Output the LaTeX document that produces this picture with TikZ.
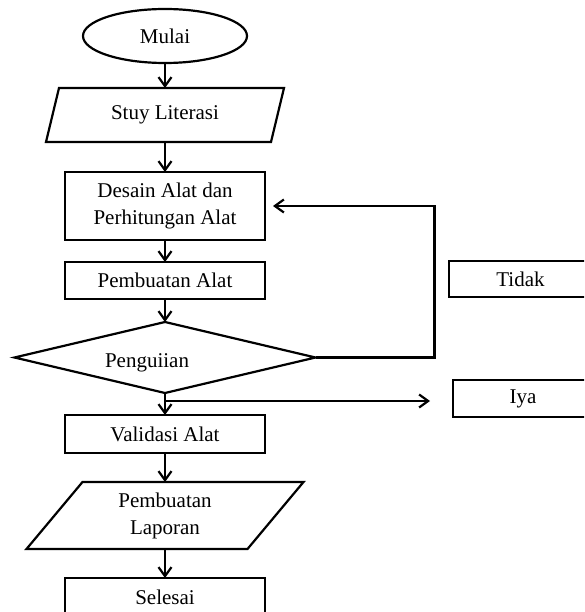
\documentclass[tikz,border=0pt]{standalone}
\usepackage{fontspec}
\setmainfont{Liberation Serif}
\usetikzlibrary{arrows.meta,positioning,shapes.geometric}

\begin{document}
\begin{tikzpicture}[
    x=1pt, y=-1pt,
    every node/.style={font=\fontsize{21}{27}\selectfont, outer sep=0pt},
    terminal/.style={draw, ellipse, line width=2.2pt, minimum width=164pt, minimum height=54pt, inner sep=0pt},
    block/.style={draw, line width=2.2pt, align=center, minimum width=200pt, inner sep=0pt},
    io/.style={align=center, inner sep=0pt},
    decision/.style={draw, diamond, line width=2.2pt, minimum width=301pt, minimum height=71pt, inner sep=0pt},
    note/.style={draw, line width=2.2pt, minimum height=36pt, inner sep=0pt},
    outline/.style={line width=2.2pt, line join=miter},
    arrow/.style={-{Straight Barb[length=9pt,width=13pt]}, line width=2.2pt}
]
\useasboundingbox (0,0) rectangle (584,612);
\clip (0,0) rectangle (584,612);

\node[terminal] (mulai) at (165,36) {Mulai};
\node[io, minimum width=238pt, minimum height=54pt, below=25pt of mulai] (stuy) {Stuy Literasi};
\node[block, minimum height=68pt, below=30pt of stuy] (desain) {Desain Alat dan\\Perhitungan Alat};
\node[block, minimum height=37pt, below=22pt of desain] (buat) {Pembuatan Alat};
\node[decision, below=23pt of buat, label={[xshift=-18pt,yshift=-5pt]center:Penguiian}] (uji) {};
\node[block, minimum height=38pt, below=22pt of uji] (validasi) {Validasi Alat};
\node[io, minimum width=277pt, minimum height=67pt, below=29pt of validasi] (laporan) {Pembuatan\\Laporan};
\node[block, minimum height=38pt, below=29pt of laporan] (selesai) {Selesai};

\node[note, minimum width=143pt] (tidak) at (520.5,279) {Tidak};
\node[note, minimum width=140pt, minimum height=37pt] (iya) at (523,398.5) {Iya};

% parallelograms
\draw[outline] ([xshift=13pt]stuy.north west) -- (stuy.north east) -- ([xshift=-13pt]stuy.south east) -- (stuy.south west) -- cycle;
\draw[outline] ([xshift=56pt]laporan.north west) -- (laporan.north east) -- ([xshift=-56pt]laporan.south east) -- (laporan.south west) -- cycle;

\draw[arrow] (mulai) -- (stuy);
\draw[arrow] (stuy) -- (desain);
\draw[arrow] (desain) -- (buat);
\draw[arrow] (buat) -- (uji);
\draw[arrow] (uji) -- (validasi);
\draw[arrow] (validasi) -- (laporan);
\draw[arrow] (laporan) -- (selesai);

% tidak: back to desain
\draw[arrow] (uji.east) -- ++(119,0) |- ([xshift=8pt]desain.east);

% iya
\coordinate (iyasplit) at ([yshift=-8pt]uji.south);
\coordinate (iyaend) at ([xshift=-23pt]iya.west);
\draw[arrow] (iyasplit) -- (iyasplit -| iyaend);
\end{tikzpicture}
\end{document}
